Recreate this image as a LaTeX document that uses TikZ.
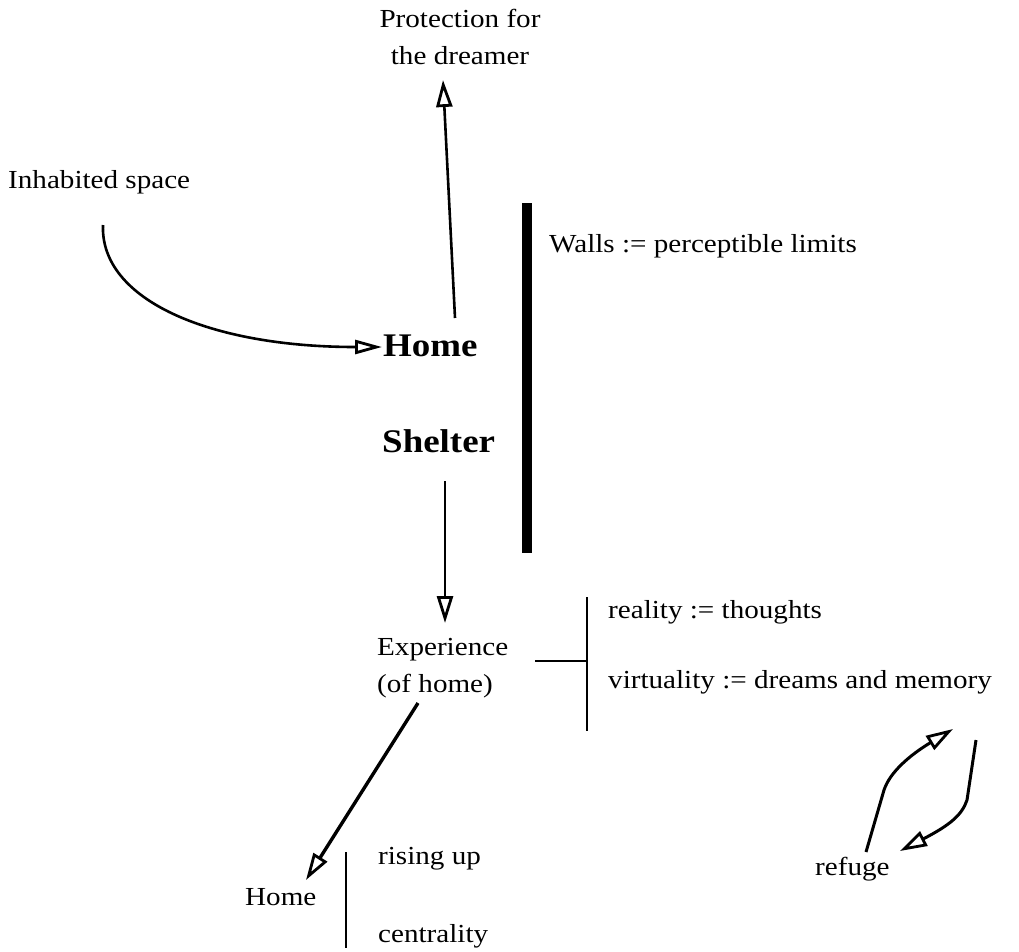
\documentclass[tikz,border=0pt]{standalone}
\usepackage{fontspec}
\setmainfont[FakeStretch=1.12]{Liberation Serif}
\usetikzlibrary{arrows.meta}
\begin{document}
\begin{tikzpicture}[x=1pt,y=-1pt,
  lbl/.style={font=\fontsize{26}{37}\selectfont, inner sep=0pt, anchor=base west},
  big/.style={font=\fontsize{33}{40}\selectfont\bfseries, inner sep=0pt, anchor=base west},
  con/.style={line width=2.6pt, line join=round,
    -{Triangle[open,length=27pt,width=16pt,line width=2.8pt]}},
  rule/.style={line width=2pt},
]
\useasboundingbox (0,0) rectangle (1019,951);

% labels (multi-line nodes sit on the baseline of their last line)
\node[lbl, align=center, anchor=base] (protect) at (460,64) {Protection for\\the dreamer};
\node[lbl] (inhab) at (8,188) {Inhabited space};
\node[big] (home) at (383,356) {Home};
\node[big] (shelter) at (382,452) {Shelter};
\node[lbl] (walls) at (549,252) {Walls := perceptible limits};
\node[lbl, align=left] (exper) at (377,692) {Experience\\(of home)};
\node[lbl] (reality) at (608,618) {reality := thoughts};
\node[lbl] (virtual) at (608,688) {virtuality := dreams and memory};
\node[lbl] (home2) at (245,905) {Home};
\node[lbl] (rising) at (378,864) {rising up};
\node[lbl] (central) at (378,942) {centrality};
\node[lbl] (refuge) at (815,875) {refuge};

% the wall
\fill (522,203) rectangle (532,553);

% connector end points
\coordinate (homeTop) at (455,318);
\coordinate (protectIn) at (443,80);
\coordinate (inhabOut) at (103,225);
\coordinate (homeIn) at (382,347);
\coordinate (shelterOut) at (445,481);
\coordinate (experIn) at (445,623);
\coordinate (experOut) at (418,703);
\coordinate (homeTwoIn) at (306,880);
\coordinate (refugeOut) at (866,852);
\coordinate (memoryIn) at (953,729);
\coordinate (memoryOut) at (976,740);
\coordinate (refugeIn) at (900,851);
\coordinate (experTie) at (535,661);
\coordinate (forkTop) at (587,597);
\coordinate (forkMid) at (587,661);
\coordinate (forkBot) at (587,731);
\coordinate (homeTwoTop) at (346,852);
\coordinate (homeTwoBot) at (346,948);

% arrows
\draw[con] (homeTop) -- (protectIn);
\draw[con, -{Triangle[open,length=27pt,width=14pt,line width=2.8pt]}]
  (inhabOut) .. controls (100,300) and (210,347) .. (homeIn);
\draw[con, line width=2pt] (shelterOut) -- (experIn);
\draw[con, line width=3.4pt] (experOut) -- (homeTwoIn);
\draw[con, line width=3pt] (refugeOut) -- (884,790) .. controls (890,772) and (910,755) .. (memoryIn);
\draw[con, line width=3pt] (memoryOut) -- (967,800) .. controls (962,815) and (950,825) .. (refugeIn);

% brackets
\draw[rule] (experTie) -- (forkMid);
\draw[rule] (forkTop) -- (forkBot);
\draw[rule] (homeTwoTop) -- (homeTwoBot);
\end{tikzpicture}
\end{document}
